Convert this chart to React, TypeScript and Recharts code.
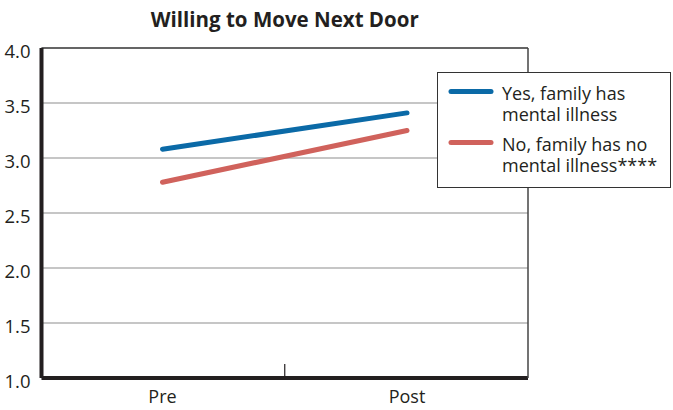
import { CartesianGrid, Legend, Line, LineChart, ReferenceLine, XAxis, YAxis } from "recharts";

const categories = ["Pre", "Post"];
const yesFamily = [3.08, 3.41];
const noFamily = [2.78, 3.25];
const yTicks = [1.0, 1.5, 2.0, 2.5, 3.0, 3.5, 4.0];
const seriesKeys = ["yes", "no"];
const legendLines: Record<string, string[]> = {
  yes: ["Yes, family has", "mental illness"],
  no: ["No, family has no", "mental illness****"],
};

const data = categories.map((phase, i) => ({
  phase,
  yes: yesFamily[i],
  no: noFamily[i],
}));

const FONT = "'Open Sans', sans-serif";
const TEXT = "#231f20";
const BLUE = "#0b6aa7";
const RED = "#d0625c";
const colors: Record<string, string> = { yes: BLUE, no: RED };

// plot edges, used only for the little divider tick on the x axis
const PLOT_LEFT = 41.5;
const PLOT_RIGHT = 528;
const MID_X = (PLOT_LEFT + PLOT_RIGHT) / 2;

const YTick = ({ x, y, payload }: any) => (
  <text x={x} y={y} dy={10} textAnchor="end" fill={TEXT} fontSize={18.5} fontFamily={FONT}>
    {Number(payload.value).toFixed(1)}
  </text>
);

const XTick = ({ x, y, payload, index }: any) => (
  <g>
    <text x={x} y={y} dy={25} textAnchor="middle" fill={TEXT} fontSize={18} fontFamily={FONT}>
      {payload.value}
    </text>
    {index === 0 && <line x1={MID_X} x2={MID_X} y1={y - 14} y2={y} stroke={TEXT} strokeWidth={1.2} />}
  </g>
);

// keep the original order (Recharts sorts legend items by name otherwise)
const LegendBox = () => (
  <div
    style={{
      width: 234,
      height: 116,
      border: "1.5px solid #333",
      background: "#fff",
      boxSizing: "border-box",
      padding: "10px 0 0 10px",
      fontFamily: FONT,
      fontSize: 18,
      color: TEXT,
      lineHeight: "21px",
      textAlign: "left",
    }}
  >
    {seriesKeys.map((key) => (
      <div key={key} style={{ display: "flex", alignItems: "flex-start", marginBottom: 9 }}>
        <svg width={54} height={21} style={{ flex: "none" }}>
          <line x1={3} x2={43} y1={8.5} y2={8.5} stroke={colors[key]} strokeWidth={5} strokeLinecap="round" />
        </svg>
        <div>
          {legendLines[key].map((t) => (
            <div key={t}>{t}</div>
          ))}
        </div>
      </div>
    ))}
  </div>
);

export default function App() {
  return (
    <div style={{ position: "absolute", left: 0, top: 0, width: 673, height: 410, background: "#fff" }}>
      <div
        style={{
          position: "absolute",
          left: PLOT_LEFT,
          width: PLOT_RIGHT - PLOT_LEFT,
          top: 5,
          textAlign: "center",
          fontFamily: FONT,
          fontWeight: 700,
          fontSize: 20.5,
          color: TEXT,
        }}
      >
        Willing to Move Next Door
      </div>
      <LineChart width={673} height={410} data={data} margin={{ top: 48, right: 144, bottom: 2, left: 0 }}>
        <CartesianGrid vertical={false} stroke="#b3b3b3" strokeWidth={1.5} />
        <XAxis
          dataKey="phase"
          height={30}
          padding={{ left: 121, right: 121 }}
          axisLine={{ stroke: TEXT, strokeWidth: 4 }}
          tickLine={false}
          tickSize={0}
          tickMargin={0}
          tick={<XTick />}
        />
        <YAxis
          domain={[1, 4]}
          ticks={yTicks}
          width={PLOT_LEFT}
          axisLine={{ stroke: TEXT, strokeWidth: 4 }}
          tickLine={false}
          tickSize={0}
          tickMargin={11}
          tick={<YTick />}
        />
        <YAxis yAxisId="frame" orientation="right" width={1} tick={false} tickLine={false} axisLine={{ stroke: "#444", strokeWidth: 1.5 }} />
        <ReferenceLine y={4} stroke="#444" strokeWidth={1.5} />
        <Legend
          layout="horizontal"
          verticalAlign="middle"
          align="center"
          content={<LegendBox />}
          wrapperStyle={{ position: "absolute", left: 437, top: 72, width: 234, height: 116 }}
        />
        <Line type="linear" dataKey="yes" name="Yes, family has mental illness" stroke={BLUE} strokeWidth={5} strokeLinecap="round" dot={false} activeDot={false} isAnimationActive={false} />
        <Line type="linear" dataKey="no" name="No, family has no mental illness****" stroke={RED} strokeWidth={5} strokeLinecap="round" dot={false} activeDot={false} isAnimationActive={false} />
      </LineChart>
    </div>
  );
}
